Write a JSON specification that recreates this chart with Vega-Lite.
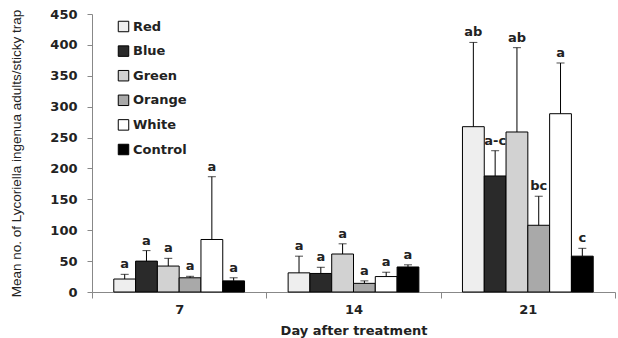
{
  "$schema": "https://vega.github.io/schema/vega-lite/v6.json",
  "width": 523,
  "height": 278,
  "autosize": {"type": "none"},
  "padding": {"left": 92, "top": 14, "right": 3, "bottom": 46},
  "background": "white",
  "config": {"view": {"stroke": null}, "font": "DejaVu Sans"},
  "data": {
    "values": [
      {"day": "7", "trap": "Red", "mean": 21, "top": 28.6, "letter": "a"},
      {"day": "7", "trap": "Blue", "mean": 50, "top": 67, "letter": "a"},
      {"day": "7", "trap": "Green", "mean": 42, "top": 54.5, "letter": "a"},
      {"day": "7", "trap": "Orange", "mean": 23, "top": 25.4, "letter": "a"},
      {"day": "7", "trap": "White", "mean": 85, "top": 186.6, "letter": "a"},
      {"day": "7", "trap": "Control", "mean": 18, "top": 23, "letter": "a"},
      {"day": "14", "trap": "Red", "mean": 31, "top": 58, "letter": "a"},
      {"day": "14", "trap": "Blue", "mean": 30, "top": 40, "letter": "a"},
      {"day": "14", "trap": "Green", "mean": 61.5, "top": 78, "letter": "a"},
      {"day": "14", "trap": "Orange", "mean": 14, "top": 18, "letter": "a"},
      {"day": "14", "trap": "White", "mean": 25, "top": 32, "letter": "a"},
      {"day": "14", "trap": "Control", "mean": 40.5, "top": 44, "letter": "a"},
      {"day": "21", "trap": "Red", "mean": 267.6, "top": 404, "letter": "ab"},
      {"day": "21", "trap": "Blue", "mean": 187.8, "top": 228.7, "letter": "a-c"},
      {"day": "21", "trap": "Green", "mean": 259, "top": 395.5, "letter": "ab"},
      {"day": "21", "trap": "Orange", "mean": 108, "top": 155, "letter": "bc"},
      {"day": "21", "trap": "White", "mean": 288.6, "top": 370.7, "letter": "a"},
      {"day": "21", "trap": "Control", "mean": 58, "top": 70.7, "letter": "c"}
    ]
  },
  "encoding": {
    "x": {
      "field": "day",
      "type": "ordinal",
      "sort": ["7", "14", "21"],
      "scale": {"paddingInner": 0, "paddingOuter": 0},
      "axis": {
        "title": "Day after treatment",
        "labelAngle": 0,
        "tickBand": "extent",
        "domainColor": "#888888",
        "tickColor": "#888888",
        "tickSize": 6,
        "labelPadding": 5,
        "labelFontSize": 13,
        "labelFontWeight": "bold",
        "labelColor": "#222222",
        "titleFontSize": 13,
        "titleFontWeight": "bold",
        "titleColor": "#222222",
        "titlePadding": 8
      }
    },
    "xOffset": {
      "field": "trap",
      "type": "nominal",
      "sort": ["Red", "Blue", "Green", "Orange", "White", "Control"],
      "scale": {"paddingInner": 0, "paddingOuter": 1.5}
    }
  },
  "layer": [
    {
      "mark": {"type": "bar", "stroke": "black", "strokeWidth": 1},
      "encoding": {
        "y": {
          "field": "mean",
          "type": "quantitative",
          "scale": {"domain": [0, 450]},
          "axis": {
            "title": "Mean no. of Lycoriella ingenua adults/sticky trap",
            "values": [0, 50, 100, 150, 200, 250, 300, 350, 400, 450],
            "labelOverlap": false,
            "grid": false,
            "domainColor": "#888888",
            "tickColor": "#888888",
            "tickSize": 5,
            "labelPadding": 10,
            "labelFontSize": 13,
            "labelFontWeight": "bold",
            "labelColor": "#222222",
            "titleFont": "Liberation Sans",
            "titleFontSize": 13.5,
            "titleFontWeight": "normal",
            "titleColor": "#222222",
            "titlePadding": 26
          }
        },
        "color": {
          "field": "trap",
          "type": "nominal",
          "sort": ["Red", "Blue", "Green", "Orange", "White", "Control"],
          "scale": {
            "domain": ["Red", "Blue", "Green", "Orange", "White", "Control"],
            "range": ["#eeeeee", "#2a2a2a", "#d2d2d2", "#a9a9a9", "#ffffff", "#000000"]
          },
          "legend": {
            "title": null,
            "orient": "none",
            "legendX": 25,
            "legendY": 6,
            "symbolType": "square",
            "symbolSize": 110,
            "symbolStrokeColor": "black",
            "symbolStrokeWidth": 1,
            "labelFontSize": 13,
            "labelFontWeight": "bold",
            "labelColor": "#222222",
            "labelOffset": 3,
            "rowPadding": 9.6
          }
        }
      }
    },
    {
      "mark": {"type": "rule", "color": "black", "strokeWidth": 1},
      "encoding": {
        "y": {
          "field": "mean",
          "type": "quantitative",
          "scale": {"domain": [0, 450]},
          "axis": {
            "title": "Mean no. of Lycoriella ingenua adults/sticky trap",
            "values": [0, 50, 100, 150, 200, 250, 300, 350, 400, 450],
            "labelOverlap": false,
            "grid": false,
            "domainColor": "#888888",
            "tickColor": "#888888",
            "tickSize": 5,
            "labelPadding": 10,
            "labelFontSize": 13,
            "labelFontWeight": "bold",
            "labelColor": "#222222",
            "titleFont": "Liberation Sans",
            "titleFontSize": 13.5,
            "titleFontWeight": "normal",
            "titleColor": "#222222",
            "titlePadding": 26
          }
        },
        "y2": {"field": "top"}
      }
    },
    {
      "mark": {"type": "tick", "color": "black", "thickness": 1, "size": 8},
      "encoding": {
        "y": {
          "field": "top",
          "type": "quantitative",
          "scale": {"domain": [0, 450]},
          "axis": {
            "title": "Mean no. of Lycoriella ingenua adults/sticky trap",
            "values": [0, 50, 100, 150, 200, 250, 300, 350, 400, 450],
            "labelOverlap": false,
            "grid": false,
            "domainColor": "#888888",
            "tickColor": "#888888",
            "tickSize": 5,
            "labelPadding": 10,
            "labelFontSize": 13,
            "labelFontWeight": "bold",
            "labelColor": "#222222",
            "titleFont": "Liberation Sans",
            "titleFontSize": 13.5,
            "titleFontWeight": "normal",
            "titleColor": "#222222",
            "titlePadding": 26
          }
        }
      }
    },
    {
      "mark": {"type": "text", "baseline": "bottom", "dy": -3, "fontSize": 13, "fontWeight": "bold", "color": "#222222"},
      "encoding": {
        "y": {
          "field": "top",
          "type": "quantitative",
          "scale": {"domain": [0, 450]},
          "axis": {
            "title": "Mean no. of Lycoriella ingenua adults/sticky trap",
            "values": [0, 50, 100, 150, 200, 250, 300, 350, 400, 450],
            "labelOverlap": false,
            "grid": false,
            "domainColor": "#888888",
            "tickColor": "#888888",
            "tickSize": 5,
            "labelPadding": 10,
            "labelFontSize": 13,
            "labelFontWeight": "bold",
            "labelColor": "#222222",
            "titleFont": "Liberation Sans",
            "titleFontSize": 13.5,
            "titleFontWeight": "normal",
            "titleColor": "#222222",
            "titlePadding": 26
          }
        },
        "text": {"field": "letter"}
      }
    }
  ]
}
